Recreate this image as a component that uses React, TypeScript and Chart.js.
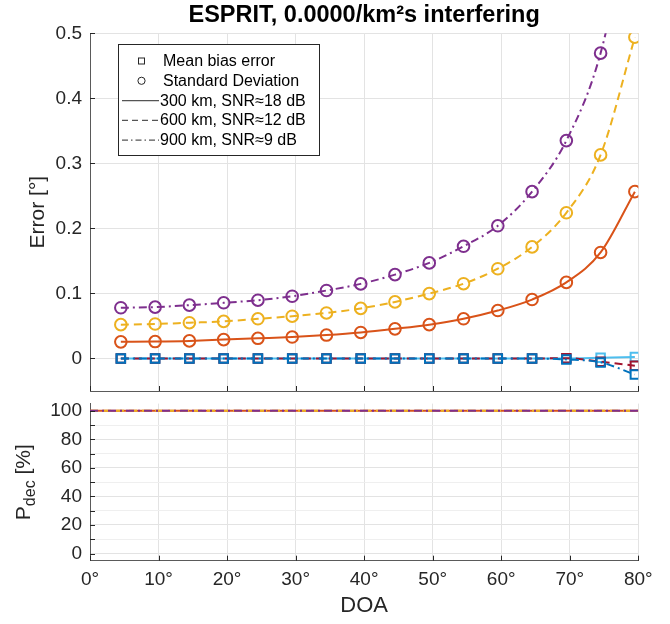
import { useEffect, useRef } from 'react';
import { Chart, registerables } from 'chart.js';
Chart.register(...registerables);

const FONT = "'Liberation Sans', Arial, Helvetica, sans-serif";

// ---- data ----
const doa = [4.5, 9.5, 14.5, 19.5, 24.5, 29.5, 34.5, 39.5, 44.5, 49.5, 54.5, 59.5, 64.5, 69.5, 74.5, 79.5];
const std300 = [0.0256, 0.026, 0.027, 0.029, 0.031, 0.033, 0.036, 0.040, 0.0456, 0.052, 0.061, 0.0737, 0.0906, 0.117, 0.163, 0.2565];
const std600 = [0.052, 0.053, 0.055, 0.057, 0.061, 0.065, 0.070, 0.077, 0.087, 0.0998, 0.115, 0.138, 0.1716, 0.224, 0.313, 0.494];
const std900 = [0.078, 0.079, 0.082, 0.0856, 0.0896, 0.0957, 0.1045, 0.1147, 0.129, 0.147, 0.1725, 0.204, 0.2565, 0.335, 0.4695, 0.72];
const bias300 = [0, 0, 0, 0, 0, 0, 0, 0, 0, 0, 0, 0, 0, 0, 0.001, 0.0023];
const bias600 = [0, 0, 0, 0, 0, 0, 0, 0, 0, 0, 0, 0, 0, 0.0005, -0.005, -0.011];
const bias900 = [0, 0, 0, 0, 0, 0, 0, 0, 0, 0, 0, 0, 0, -0.0015, -0.006, -0.0245];

const pdecDoa = [0, 10, 20, 30, 40, 50, 60, 70, 80];
const pdec300 = [100, 100, 100, 100, 100, 100, 100, 100, 100];
const pdec600 = [100, 100, 100, 100, 100, 100, 100, 100, 100];
const pdec900 = [100, 100, 100, 100, 100, 100, 100, 100, 100];

const xTicks = [0, 10, 20, 30, 40, 50, 60, 70, 80];
const errTicks = [0, 0.1, 0.2, 0.3, 0.4, 0.5];
const pdecTicks = [0, 10, 20, 30, 40, 50, 60, 70, 80, 90, 100];

const titleText = 'ESPRIT, 0.0000/km²s interfering';
const legendItems = [
  { label: 'Mean bias error', kind: 'square' },
  { label: 'Standard Deviation', kind: 'circle' },
  { label: '300 km, SNR≈18 dB', kind: 'solid' },
  { label: '600 km, SNR≈12 dB', kind: 'dashed' },
  { label: '900 km, SNR≈9 dB', kind: 'dashdot' },
];

// ---- styles ----
const C_BLUE = '#0072BD';
const C_ORANGE = '#D95319';
const C_YELLOW = '#EDB120';
const C_PURPLE = '#7E2F8E';
const C_LBLUE = '#4DBEEE';
const C_DRED = '#A2142F';
const DASH = [8, 5];
const DASHDOT = [8, 4, 2, 4];
const GRID = '#e3e3e3';
const AXIS = '#5a5a5a';

const zip = (xs: number[], ys: number[]) => xs.map((x, i) => ({ x, y: ys[i] }));

const innerTicks = {
  id: 'innerTicks',
  afterDatasetsDraw(chart: any) {
    const { ctx, chartArea } = chart;
    const xs = chart.scales.x, ys = chart.scales.y;
    ctx.save();
    ctx.strokeStyle = '#262626';
    ctx.lineWidth = 1;
    ctx.beginPath();
    xs.ticks.forEach((t: any) => {
      const px = Math.round(xs.getPixelForValue(t.value)) + 0.5;
      ctx.moveTo(px, chartArea.bottom);
      ctx.lineTo(px, chartArea.bottom - 5);
    });
    ys.ticks.forEach((t: any) => {
      const py = Math.round(ys.getPixelForValue(t.value)) + 0.5;
      ctx.moveTo(chartArea.left, py);
      ctx.lineTo(chartArea.left + 5, py);
    });
    ctx.stroke();
    ctx.restore();
  },
};

const titleAndLegend = {
  id: 'titleAndLegend',
  afterDraw(chart: any) {
    const { ctx, chartArea } = chart;
    ctx.save();
    ctx.fillStyle = '#000';
    ctx.font = `bold 23.5px ${FONT}`;
    ctx.textAlign = 'center';
    ctx.textBaseline = 'middle';
    ctx.fillText(titleText, (chartArea.left + chartArea.right) / 2, 16);

    // legend box
    const bx = 118.5, by = 44.5, bw = 201, bh = 111;
    ctx.fillStyle = '#fff';
    ctx.fillRect(bx, by, bw, bh);
    ctx.strokeStyle = '#262626';
    ctx.lineWidth = 1;
    ctx.strokeRect(bx, by, bw, bh);
    ctx.font = `16px ${FONT}`;
    ctx.textAlign = 'left';
    ctx.textBaseline = 'middle';
    legendItems.forEach((it, i) => {
      const cy = 61 + i * 19.8;
      ctx.strokeStyle = '#262626';
      ctx.lineWidth = 1;
      ctx.setLineDash([]);
      if (it.kind === 'square') {
        ctx.strokeRect(138.5, cy - 3, 6, 6);
      } else if (it.kind === 'circle') {
        ctx.beginPath();
        ctx.arc(141.5, cy, 3.6, 0, Math.PI * 2);
        ctx.stroke();
      } else {
        ctx.strokeStyle = '#555';
        ctx.lineWidth = 1.3;
        ctx.setLineDash(it.kind === 'dashed' ? [6, 4] : it.kind === 'dashdot' ? [6, 3, 1.5, 3] : []);
        ctx.beginPath();
        ctx.moveTo(122, cy);
        ctx.lineTo(159, cy);
        ctx.stroke();
        ctx.setLineDash([]);
      }
      ctx.fillStyle = '#000';
      const tx = it.kind === 'square' || it.kind === 'circle' ? 163 : 160;
      ctx.fillText(it.label, tx, cy + 0.5);
    });
    ctx.restore();
  },
};

const pdecTitle = {
  id: 'pdecTitle',
  afterDraw(chart: any) {
    const { ctx, chartArea } = chart;
    const cy = (chartArea.top + chartArea.bottom) / 2;
    ctx.save();
    ctx.translate(30, cy);
    ctx.rotate(-Math.PI / 2);
    ctx.fillStyle = '#262626';
    ctx.textBaseline = 'alphabetic';
    ctx.textAlign = 'left';
    const big = `21px ${FONT}`, small = `16px ${FONT}`;
    ctx.font = big;
    const wP = ctx.measureText('P').width;
    const wR = ctx.measureText(' [%]').width;
    ctx.font = small;
    const wD = ctx.measureText('dec').width;
    let x = -(wP + wD + wR) / 2;
    ctx.font = big;
    ctx.fillText('P', x, 0);
    x += wP;
    ctx.font = small;
    ctx.fillText('dec', x, 5);
    x += wD;
    ctx.font = big;
    ctx.fillText(' [%]', x, 0);
    ctx.restore();
  },
};

const fmt = (v: number) => String(Number(v.toFixed(3)));

function TopChart() {
  const ref = useRef<HTMLCanvasElement>(null);
  useEffect(() => {
    const mk = (label: string, ys: number[], color: string, dash: number[], style: string, r: number) => ({
      label,
      data: zip(doa, ys),
      borderColor: color,
      backgroundColor: 'rgba(0,0,0,0)',
      borderWidth: 2,
      borderDash: dash,
      pointStyle: style,
      pointRadius: r,
      pointBorderWidth: 2,
      pointBorderColor: color,
      pointBackgroundColor: 'rgba(0,0,0,0)',
      cubicInterpolationMode: 'monotone',
    });
    const chart = new Chart(ref.current!, {
      type: 'line',
      data: {
        datasets: [
          mk('bias 900', bias900, C_BLUE, DASHDOT, 'rect', 6),
          mk('bias 600', bias600, C_DRED, DASH, 'rect', 6),
          mk('bias 300', bias300, C_LBLUE, [], 'rect', 6),
          mk('std 900', std900, C_PURPLE, DASHDOT, 'circle', 5.8),
          mk('std 600', std600, C_YELLOW, DASH, 'circle', 5.8),
          mk('std 300', std300, C_ORANGE, [], 'circle', 5.8),
        ] as any,
      },
      options: {
        animation: false,
        responsive: false,
        layout: { padding: { left: 0, right: 31.7, top: 33.3, bottom: 9 } },
        plugins: { legend: { display: false }, tooltip: { enabled: false }, title: { display: false } },
        scales: {
          x: {
            type: 'linear', min: 0, max: 80,
            afterBuildTicks: (s: any) => { s.ticks = xTicks.map((v) => ({ value: v })); },
            afterFit: (s: any) => { s.height = 0; s.paddingLeft = 0; s.paddingRight = 0; },
            ticks: { display: false },
            grid: { color: GRID, drawTicks: false },
            border: { display: true, color: AXIS, width: 1 },
          },
          y: {
            type: 'linear', min: -0.05, max: 0.5,
            afterBuildTicks: (s: any) => { s.ticks = errTicks.map((v) => ({ value: v })); },
            afterFit: (s: any) => { s.width = 90; s.paddingTop = 0; s.paddingBottom = 0; },
            ticks: { padding: 8, color: '#262626', font: { family: FONT, size: 19 }, callback: (v: any) => fmt(Number(v)) },
            grid: { color: GRID, drawTicks: false },
            border: { display: true, color: AXIS, width: 1 },
            title: { display: true, text: 'Error [°]', color: '#262626', font: { family: FONT, size: 21 }, padding: { top: 26, bottom: 0 } },
          },
        },
      } as any,
      plugins: [innerTicks, titleAndLegend],
    });
    return () => chart.destroy();
  }, []);
  return <canvas ref={ref} width={670} height={400} style={{ position: 'absolute', left: 0, top: 0, width: 670, height: 400 }} />;
}

function BottomChart() {
  const ref = useRef<HTMLCanvasElement>(null);
  useEffect(() => {
    const mk = (label: string, ys: number[], color: string, dash: number[]) => ({
      label,
      data: zip(pdecDoa, ys),
      borderColor: color,
      backgroundColor: 'rgba(0,0,0,0)',
      borderWidth: 2,
      borderDash: dash,
      pointRadius: 0,
    });
    const chart = new Chart(ref.current!, {
      type: 'line',
      data: {
        datasets: [
          mk('900', pdec900, C_PURPLE, DASHDOT),
          mk('600', pdec600, C_YELLOW, DASH),
          mk('300', pdec300, C_ORANGE, []),
        ] as any,
      },
      options: {
        animation: false,
        responsive: false,
        layout: { padding: { left: 0, right: 31.7, top: 3.6, bottom: 0 } },
        plugins: { legend: { display: false }, tooltip: { enabled: false } },
        scales: {
          x: {
            type: 'linear', min: 0, max: 80,
            afterBuildTicks: (s: any) => { s.ticks = xTicks.map((v) => ({ value: v })); },
            afterFit: (s: any) => { s.height = 63.3; s.paddingLeft = 0; s.paddingRight = 0; },
            ticks: { padding: 8, color: '#262626', font: { family: FONT, size: 19 }, callback: (v: any) => `${v}°`, maxRotation: 0, autoSkip: false },
            grid: { color: GRID, drawTicks: false },
            border: { display: true, color: AXIS, width: 1 },
            title: { display: true, text: 'DOA', color: '#262626', font: { family: FONT, size: 22 }, padding: { top: 0, bottom: 5 } },
          },
          y: {
            type: 'linear', min: -5, max: 105,
            afterBuildTicks: (s: any) => { s.ticks = pdecTicks.map((v) => ({ value: v })); },
            afterFit: (s: any) => { s.width = 90; s.paddingTop = 0; s.paddingBottom = 0; },
            ticks: { padding: 8, color: '#262626', font: { family: FONT, size: 19 }, autoSkip: false, callback: (v: any) => (Number(v) % 20 === 0 ? String(v) : '') },
            grid: { color: (c: any) => (c.tick && c.tick.value % 20 === 0 ? GRID : '#efefef'), drawTicks: false },
            border: { display: true, color: AXIS, width: 1 },
          },
        },
      } as any,
      plugins: [innerTicks, pdecTitle],
    });
    return () => chart.destroy();
  }, []);
  return <canvas ref={ref} width={670} height={224} style={{ position: 'absolute', left: 0, top: 400, width: 670, height: 224 }} />;
}

export default function App() {
  return (
    <div style={{ position: 'absolute', left: 0, top: 0, width: 670, height: 624, background: '#fff' }}>
      <TopChart />
      <BottomChart />
    </div>
  );
}
